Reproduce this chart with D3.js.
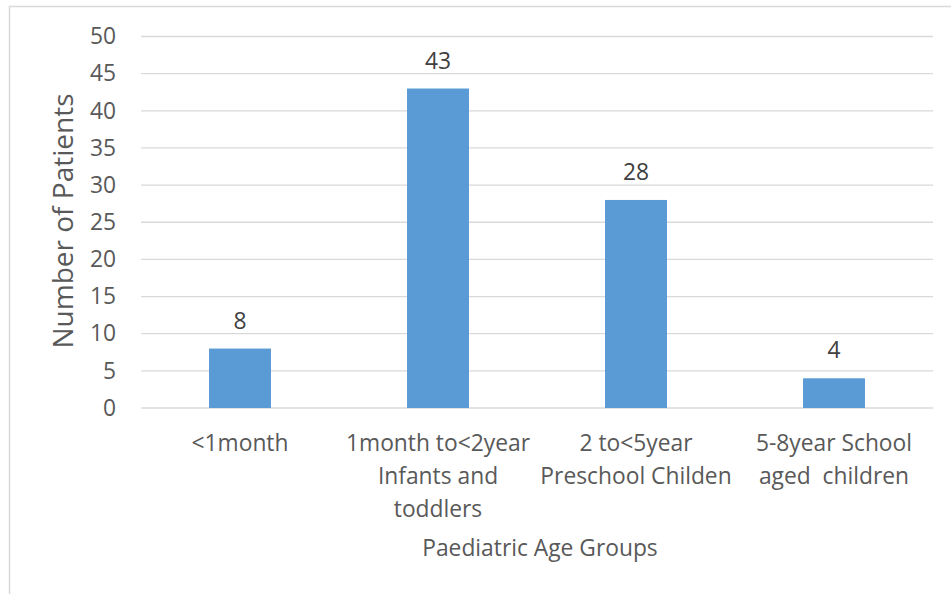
<!DOCTYPE html>
<html><head><meta charset="utf-8">
<script src="https://cdn.jsdelivr.net/npm/d3@7"></script>
<style>
html,body{margin:0;padding:0;background:#fff;}
svg{display:block;font-family:"Open Sans", sans-serif;}
</style></head>
<body>
<script>
const categories = [
  ["<1month"],
  ["1month to<2year", "Infants and", "toddlers"],
  ["2 to<5year", "Preschool Childen"],
  ["5-8year School", "aged  children"]
];
const values = [8, 43, 28, 4];
const yTicks = [0, 5, 10, 15, 20, 25, 30, 35, 40, 45, 50];
const yTitle = "Number of Patients";
const xTitle = "Paediatric Age Groups";

(function () {
const W = 951, H = 594;
const FONT = "'Open Sans', sans-serif";
const FS = 22.8;
const svg = d3.select("body").append("svg").attr("width", W).attr("height", H);

svg.append("rect").attr("x", 9.5).attr("y", 6.5).attr("width", W + 10).attr("height", H + 10)
  .attr("fill", "#fff").attr("stroke", "#d9d9d9").attr("stroke-width", 1.5);

const pLeft = 141, pRight = 933, pTop = 36.5, pBottom = 408;
const x = d3.scaleBand().domain(d3.range(values.length)).range([pLeft, pRight]).paddingInner(0.687).paddingOuter(0.3435);
const y = d3.scaleLinear().domain([0, 50]).range([pBottom, pTop]);

// gridlines
svg.append("g").selectAll("line").data(yTicks).join("line")
  .attr("x1", pLeft).attr("x2", pRight)
  .attr("y1", d => y(d)).attr("y2", d => y(d))
  .attr("stroke", "#d9d9d9").attr("stroke-width", 1.3);

// y axis via d3.axisLeft
const yAxis = svg.append("g").attr("transform", `translate(${pLeft},0)`)
  .call(d3.axisLeft(y).tickValues(yTicks).tickSize(0).tickPadding(25));
yAxis.select(".domain").remove();
yAxis.selectAll("text").attr("font-size", FS).attr("fill", "#595959").attr("font-family", FONT);

// bars
svg.append("g").selectAll("rect").data(values).join("rect")
  .attr("x", (d, i) => x(i)).attr("width", x.bandwidth())
  .attr("y", d => y(d)).attr("height", d => y(0) - y(d))
  .attr("fill", "#5b9bd5");

// value labels
svg.append("g").selectAll("text").data(values).join("text")
  .attr("x", (d, i) => x(i) + x.bandwidth() / 2)
  .attr("y", d => y(d) - 20)
  .attr("text-anchor", "middle")
  .attr("font-size", FS).attr("fill", "#404040")
  .text(d => d);

// category labels
const cat = svg.append("g").selectAll("text").data(categories).join("text")
  .attr("text-anchor", "middle").attr("font-size", FS).attr("fill", "#595959")
  .attr("x", (d, i) => x(i) + x.bandwidth() / 2)
  .attr("y", 451);
cat.selectAll("tspan").data(d => d).join("tspan")
  .attr("x", function() { return d3.select(this.parentNode).attr("x"); })
  .attr("dy", (d, i) => i === 0 ? 0 : 33)
  .style("white-space", "pre")
  .text(d => d);

// axis titles
svg.append("text").attr("transform", `translate(73,221) rotate(-90)`)
  .attr("text-anchor", "middle").attr("font-size", 28).attr("fill", "#595959").text(yTitle);
svg.append("text").attr("x", 540).attr("y", 556)
  .attr("text-anchor", "middle").attr("font-size", FS).attr("fill", "#595959").text(xTitle);
})();
</script>
</body></html>
